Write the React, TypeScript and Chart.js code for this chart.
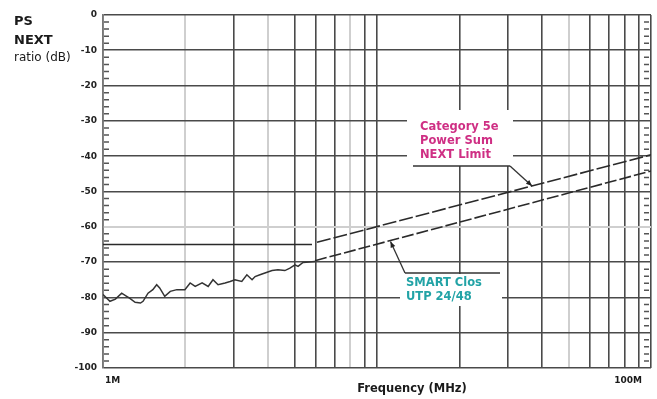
import { useEffect, useRef } from "react";
import { Chart, registerables } from "chart.js";

Chart.register(...registerables);

// Measured PS NEXT of the SMART Clos panel (MHz, dB)
const measuredFreq = [
  1.0, 1.06, 1.11, 1.17, 1.22, 1.25, 1.31, 1.37, 1.4, 1.46, 1.52, 1.57, 1.61, 1.68,
  1.76, 1.86, 1.99, 2.08, 2.17, 2.3, 2.42, 2.52, 2.63, 2.79, 2.91, 3.03, 3.21, 3.35,
  3.5, 3.59, 3.74, 3.9, 4.14, 4.35, 4.61, 4.81, 5.02, 5.15, 5.37, 5.94,
];
const measuredDb = [
  -79.2, -81.1, -80.5, -78.8, -79.7, -80.2, -81.4, -81.6, -81.1, -78.8, -77.8, -76.4,
  -77.3, -79.7, -78.3, -77.8, -77.8, -75.9, -76.9, -75.9, -76.9, -75.0, -76.4, -75.9,
  -75.5, -75.0, -75.5, -73.6, -75.0, -74.1, -73.6, -73.1, -72.4, -72.2, -72.4, -71.7,
  -70.8, -71.2, -70.1, -69.8,
];
// Extrapolated measured trend above the noise floor
const measuredTrendFreq = [5.94, 100];
const measuredTrendDb = [-69.6, -44.2];

// Category 5e power sum NEXT limit
const limitFlatFreq = [1, 5.79];
const limitFlatDb = [-65, -65];
const limitSlopeFreq = [6.04, 100];
const limitSlopeDb = [-64.4, -39.6];

// Axes
const gridFreqs = [1, 2, 3, 4, 5, 6, 7, 8, 9, 10, 20, 30, 40, 50, 60, 70, 80, 90, 100];
const lightGridFreqs = [2, 4, 8, 50];
const dbTicks = [0, -10, -20, -30, -40, -50, -60, -70, -80, -90, -100];
const lightGridDb = [-60];
const xTickValues = [1, 100];
const xTickLabels = ["1M", "100M"];

const yTitleLines = ["PS", "NEXT", "ratio (dB)"];
const xTitle = "Frequency (MHz)";
const limitLabel = ["Category 5e", "Power Sum", "NEXT Limit"];
const measuredLabel = ["SMART Clos", "UTP 24/48"];

const limitArrowFreq = 36.8;
const measuredArrowFreq = 11.2;

const FONT = "'DejaVu Sans', Verdana, sans-serif";
const DARK = "#4a4a4a";
const LIGHT = "#cfcfcf";
const MAGENTA = "#cf2f84";
const TEAL = "#22a3a6";

const toPoints = (xs: number[], ys: number[]) => xs.map((x, i) => ({ x, y: ys[i] }));

// Interpolate a straight segment in log-frequency space
const valueOnLine = (xs: number[], ys: number[], f: number) => {
  const t = (Math.log10(f) - Math.log10(xs[0])) / (Math.log10(xs[1]) - Math.log10(xs[0]));
  return ys[0] + t * (ys[1] - ys[0]);
};

const drawArrow = (ctx: CanvasRenderingContext2D, fx: number, fy: number, tx: number, ty: number) => {
  ctx.beginPath();
  ctx.moveTo(fx, fy);
  ctx.lineTo(tx, ty);
  ctx.stroke();
  const a = Math.atan2(ty - fy, tx - fx);
  const len = 6;
  const w = 2.5;
  ctx.beginPath();
  ctx.moveTo(tx, ty);
  ctx.lineTo(tx - len * Math.cos(a) + w * Math.sin(a), ty - len * Math.sin(a) - w * Math.cos(a));
  ctx.lineTo(tx - len * Math.cos(a) - w * Math.sin(a), ty - len * Math.sin(a) + w * Math.cos(a));
  ctx.closePath();
  ctx.fill();
};

const annotationPlugin = {
  id: "nextAnnotations",
  beforeDatasetsDraw(chart: any) {
    const { ctx, chartArea } = chart;
    const L = chartArea.left;
    const T = chartArea.top;
    ctx.save();
    ctx.fillStyle = "#ffffff";
    // label backgrounds that interrupt the grid
    ctx.fillRect(L + 304, T + 95, 106, 56);
    ctx.fillRect(L + 297, T + 259, 102, 32);
    // minor dB ticks along both sides
    ctx.strokeStyle = "#555";
    ctx.lineWidth = 1.5;
    const y = chart.scales.y;
    for (let v = 0; v >= -100; v -= 2) {
      if (v % 10 === 0) continue;
      const py = y.getPixelForValue(v);
      ctx.beginPath();
      ctx.moveTo(chartArea.left + 1, py);
      ctx.lineTo(chartArea.left + 6, py);
      ctx.moveTo(chartArea.right - 7, py);
      ctx.lineTo(chartArea.right - 2, py);
      ctx.stroke();
    }
    ctx.restore();
  },
  afterDatasetsDraw(chart: any) {
    const { ctx, chartArea } = chart;
    const xs = chart.scales.x;
    const ys = chart.scales.y;
    const L = chartArea.left;
    const T = chartArea.top;
    ctx.save();

    // axis titles
    ctx.fillStyle = "#1a1a1a";
    ctx.textAlign = "left";
    ctx.textBaseline = "middle";
    ctx.font = `bold 13px ${FONT}`;
    ctx.fillText(yTitleLines[0], 14, 22);
    ctx.fillText(yTitleLines[1], 14, 41);
    ctx.font = `12px ${FONT}`;
    ctx.fillText(yTitleLines[2], 14, 58);

    ctx.textAlign = "center";
    ctx.font = `bold 11.5px ${FONT}`;
    ctx.fillText(xTitle, 412, 389);

    // frequency tick labels
    ctx.font = `bold 9px ${FONT}`;
    ctx.textAlign = "left";
    ctx.fillText(xTickLabels[0], xs.getPixelForValue(xTickValues[0]) + 2, 381);
    ctx.textAlign = "right";
    ctx.fillText(xTickLabels[1], xs.getPixelForValue(xTickValues[1]) - 9, 381);

    // limit annotation
    ctx.fillStyle = MAGENTA;
    ctx.textAlign = "left";
    ctx.font = `bold 11.5px ${FONT}`;
    limitLabel.forEach((t, i) => ctx.fillText(t, L + 317, T + 112 + i * 14));
    ctx.strokeStyle = "#333";
    ctx.fillStyle = "#222";
    ctx.lineWidth = 1.3;
    ctx.beginPath();
    ctx.moveTo(L + 310, T + 151);
    ctx.lineTo(L + 407, T + 151);
    ctx.stroke();
    const lx = xs.getPixelForValue(limitArrowFreq);
    const ly = ys.getPixelForValue(valueOnLine(limitSlopeFreq, limitSlopeDb, limitArrowFreq));
    drawArrow(ctx, L + 407, T + 151, lx, ly);

    // measured annotation
    ctx.beginPath();
    ctx.moveTo(L + 302, T + 258);
    ctx.lineTo(L + 397, T + 258);
    ctx.stroke();
    const mx = xs.getPixelForValue(measuredArrowFreq);
    const my = ys.getPixelForValue(valueOnLine(measuredTrendFreq, measuredTrendDb, measuredArrowFreq));
    drawArrow(ctx, L + 302, T + 258, mx, my + 1);
    ctx.fillStyle = TEAL;
    ctx.font = `bold 11.5px ${FONT}`;
    measuredLabel.forEach((t, i) => ctx.fillText(t, L + 303, T + 268 + i * 14));

    ctx.restore();
  },
};

export default function App() {
  const canvasRef = useRef<HTMLCanvasElement | null>(null);

  useEffect(() => {
    if (!canvasRef.current) return;
    const gridColor = (lightSet: number[]) => (c: any) =>
      c.tick && lightSet.includes(c.tick.value) ? LIGHT : DARK;
    const gridWidth = (lightSet: number[]) => (c: any) =>
      c.tick && lightSet.includes(c.tick.value) ? 2 : 1.6;

    const chart = new Chart(canvasRef.current, {
      type: "line",
      data: {
        datasets: [
          {
            label: "Category 5e PS NEXT limit",
            data: toPoints(limitFlatFreq, limitFlatDb),
            borderColor: "#2a2a2a",
            borderWidth: 1.6,
            pointRadius: 0,
          },
          {
            label: "Category 5e PS NEXT limit (slope)",
            data: toPoints(limitSlopeFreq, limitSlopeDb),
            borderColor: "#2a2a2a",
            borderWidth: 1.6,
            borderDash: [14, 3],
            pointRadius: 0,
          },
          {
            label: "SMART Clos UTP 24/48",
            data: toPoints(measuredFreq, measuredDb),
            borderColor: "#333",
            borderWidth: 1.5,
            pointRadius: 0,
          },
          {
            label: "SMART Clos UTP 24/48 (trend)",
            data: toPoints(measuredTrendFreq, measuredTrendDb),
            borderColor: "#2a2a2a",
            borderWidth: 1.6,
            borderDash: [12, 3],
            pointRadius: 0,
          },
        ],
      },
      options: {
        animation: false,
        responsive: true,
        maintainAspectRatio: false,
        layout: { padding: { top: 15, right: 6, bottom: 0, left: 0 } },
        plugins: { legend: { display: false }, tooltip: { enabled: false } },
        scales: {
          x: {
            type: "logarithmic",
            min: 1,
            max: 100,
            afterBuildTicks: (s: any) => {
              s.ticks = gridFreqs.map((v) => ({ value: v }));
            },
            afterFit: (s: any) => {
              s.height = 31;
            },
            ticks: { display: false },
            grid: { color: gridColor(lightGridFreqs), lineWidth: gridWidth(lightGridFreqs), drawTicks: false },
            border: { display: false },
          },
          y: {
            type: "linear",
            min: -100,
            max: 0,
            afterBuildTicks: (s: any) => {
              s.ticks = dbTicks.map((v) => ({ value: v }));
            },
            afterFit: (s: any) => {
              s.width = 103;
            },
            ticks: {
              padding: 6,
              color: "#222",
              font: { family: FONT, size: 9, weight: "bold" },
              callback: (v: any) => String(v),
            },
            grid: { color: gridColor(lightGridDb), lineWidth: gridWidth(lightGridDb), drawTicks: false },
            border: { display: true, color: "#777", width: 1.5 },
          },
        },
      },
      plugins: [annotationPlugin],
    });
    return () => chart.destroy();
  }, []);

  return (
    <div style={{ position: "fixed", left: 0, top: 0, width: 657, height: 399, background: "#fff" }}>
      <canvas ref={canvasRef} />
    </div>
  );
}
